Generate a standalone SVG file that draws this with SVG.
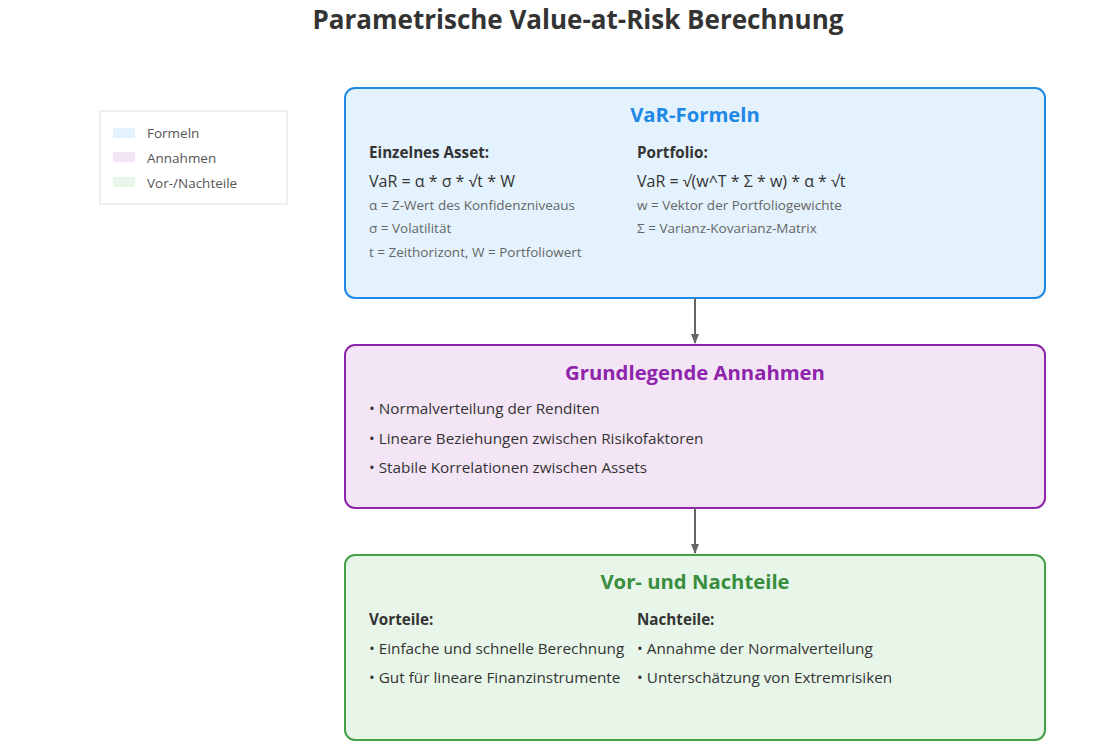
<svg xmlns="http://www.w3.org/2000/svg" width="1100" height="750" viewBox="0 0 1100 750">
<defs>
<marker id="arr" markerWidth="10" markerHeight="8" refX="9" refY="4" orient="auto" markerUnits="userSpaceOnUse">
<path d="M0,0 L10,4 L0,8 Z" fill="#666"/>
</marker>
<style>
text{font-family:"Open Sans","Noto Sans",sans-serif;}
.title{font-size:26px;font-weight:bold;fill:#333;text-anchor:middle;}
.h{font-size:20.3px;font-weight:bold;text-anchor:middle;}
.sub{font-size:15.2px;font-weight:bold;fill:#333;}
.f{font-size:16px;fill:#333;}
.s{font-size:13.5px;fill:#666;}
.b{font-size:15.3px;fill:#333;}
.lg{font-size:13.5px;fill:#555;}
.conn{stroke:#666;stroke-width:2;fill:none;}
</style>
</defs>
<rect width="1100" height="750" fill="#fff"/>
<text class="title" x="578" y="29">Parametrische Value-at-Risk Berechnung</text>

<g id="legend">
<rect x="100" y="111" width="187" height="93" fill="#fff" stroke="#ddd" stroke-width="1"/>
<rect x="113" y="128" width="22" height="10" fill="#e3f2fd"/>
<text class="lg" x="147" y="138">Formeln</text>
<rect x="113" y="152" width="22" height="10" fill="#f3e5f5"/>
<text class="lg" x="147" y="163">Annahmen</text>
<rect x="113" y="177" width="22" height="10" fill="#e8f5e9"/>
<text class="lg" x="147" y="188">Vor-/Nachteile</text>
</g>

<g id="formeln">
<rect x="345" y="88" width="700" height="210" rx="10" fill="#e3f2fd" stroke="#1e88e5" stroke-width="2"/>
<text class="h" x="695" y="122" fill="#1e88e5">VaR-Formeln</text>
<text class="sub" x="369" y="158">Einzelnes Asset:</text>
<text class="f" x="369" y="187">VaR = α * σ * √t * W</text>
<text class="s" x="369" y="210">α = Z-Wert des Konfidenzniveaus</text>
<text class="s" x="369" y="233">σ = Volatilität</text>
<text class="s" x="369" y="257">t = Zeithorizont, W = Portfoliowert</text>
<text class="sub" x="637" y="158">Portfolio:</text>
<text class="f" x="637" y="187">VaR = √(w^T * Σ * w) * α * √t</text>
<text class="s" x="637" y="210">w = Vektor der Portfoliogewichte</text>
<text class="s" x="637" y="233">Σ = Varianz-Kovarianz-Matrix</text>
</g>

<g id="annahmen">
<rect x="345" y="345" width="700" height="163" rx="10" fill="#f3e5f5" stroke="#8e24aa" stroke-width="2"/>
<text class="h" x="695" y="380" fill="#8e24aa">Grundlegende Annahmen</text>
<text class="b" x="369" y="414">• Normalverteilung der Renditen</text>
<text class="b" x="369" y="444">• Lineare Beziehungen zwischen Risikofaktoren</text>
<text class="b" x="369" y="473">• Stabile Korrelationen zwischen Assets</text>
</g>

<g id="vornachteile">
<rect x="345" y="555" width="700" height="185" rx="10" fill="#e8f5e9" stroke="#43a047" stroke-width="2"/>
<text class="h" x="695" y="589" fill="#388e3c">Vor- und Nachteile</text>
<text class="sub" x="369" y="625">Vorteile:</text>
<text class="b" x="369" y="654">• Einfache und schnelle Berechnung</text>
<text class="b" x="369" y="683">• Gut für lineare Finanzinstrumente</text>
<text class="sub" x="637" y="625">Nachteile:</text>
<text class="b" x="637" y="654">• Annahme der Normalverteilung</text>
<text class="b" x="637" y="683">• Unterschätzung von Extremrisiken</text>
</g>

<g id="connectors">
<line class="conn" x1="695" y1="298" x2="695" y2="343" marker-end="url(#arr)"/>
<line class="conn" x1="695" y1="508" x2="695" y2="553" marker-end="url(#arr)"/>
</g>
</svg>
